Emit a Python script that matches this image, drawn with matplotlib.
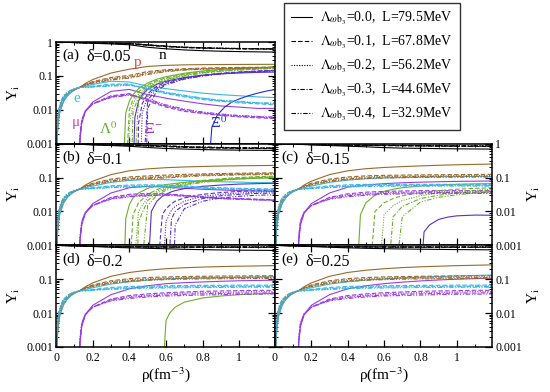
import numpy as np
import matplotlib
matplotlib.use('Agg')
import matplotlib.pyplot as plt
from matplotlib.lines import Line2D
from matplotlib.ticker import LogLocator, MultipleLocator, NullFormatter

nan = np.nan

LAMBDA_WB3 = ['0.0', '0.1', '0.2', '0.3', '0.4']
L_MEV = ['79.5', '67.8', '56.2', '44.6', '32.9']
DELTAS = ['0.05', '0.1', '0.15', '0.2', '0.25']
PANEL_TAGS = ['(a)', '(b)', '(c)', '(d)', '(e)']

# ---- low density part, p = e, same in every panel ----
X_LOW = [0.001, 0.01, 0.02, 0.04, 0.06, 0.08, 0.1, 0.13]
Y_LOW = [[0.0004, 0.0038, 0.0085, 0.0175, 0.0255, 0.0325, 0.0385, 0.046],
         [0.0005, 0.0045, 0.0100, 0.0195, 0.0275, 0.0340, 0.0395, 0.046],
         [0.0006, 0.0053, 0.0115, 0.0215, 0.0292, 0.0352, 0.0403, 0.046],
         [0.0007, 0.0062, 0.0130, 0.0235, 0.0308, 0.0363, 0.0410, 0.046],
         [0.0008, 0.0072, 0.0147, 0.0255, 0.0325, 0.0375, 0.0418, 0.046]]

X_PE = [0.16, 0.2, 0.3, 0.4, 0.5, 0.6, 0.7, 0.8, 0.9, 1.0, 1.1, 1.2]
X_N = [0.0, 0.13, 0.2, 0.3, 0.4, 0.5, 0.6, 0.7, 0.8, 0.9, 1.0, 1.1, 1.2]
X_MU = [0.13, 0.14, 0.16, 0.2, 0.3, 0.4, 0.5, 0.6, 0.7, 0.8, 0.9, 1.0, 1.1, 1.2]
MU_ON = [0.128, 0.127, 0.126, 0.125, 0.124]

# ---- panel (a), delta = 0.05 ----
N_A = [[0.999, 0.954, 0.922, 0.878, 0.830, 0.700, 0.630, 0.585, 0.555, 0.535, 0.522, 0.512, 0.505],
       [0.999, 0.954, 0.932, 0.910, 0.886, 0.800, 0.730, 0.685, 0.660, 0.642, 0.630, 0.622, 0.615],
       [0.999, 0.954, 0.935, 0.915, 0.895, 0.810, 0.740, 0.693, 0.666, 0.648, 0.636, 0.627, 0.620],
       [0.999, 0.954, 0.937, 0.920, 0.903, 0.822, 0.750, 0.701, 0.673, 0.654, 0.641, 0.632, 0.625],
       [0.999, 0.954, 0.939, 0.924, 0.910, 0.835, 0.760, 0.709, 0.679, 0.659, 0.646, 0.637, 0.630]]
P_A = [[0.060, 0.078, 0.122, 0.158, 0.190, 0.205, 0.212, 0.215, 0.217, 0.218, 0.219, 0.220],
       [0.056, 0.068, 0.090, 0.104, 0.135, 0.152, 0.163, 0.170, 0.175, 0.178, 0.180, 0.182],
       [0.055, 0.065, 0.085, 0.097, 0.126, 0.146, 0.158, 0.165, 0.170, 0.174, 0.176, 0.178],
       [0.054, 0.063, 0.080, 0.091, 0.118, 0.140, 0.153, 0.161, 0.166, 0.170, 0.172, 0.174],
       [0.053, 0.061, 0.076, 0.086, 0.110, 0.134, 0.148, 0.157, 0.162, 0.166, 0.169, 0.171]]
E_A = [[0.050, 0.056, 0.070, 0.066, 0.050, 0.042, 0.036, 0.031, 0.028, 0.026, 0.024, 0.023],
       [0.047, 0.050, 0.057, 0.058, 0.040, 0.030, 0.024, 0.020, 0.018, 0.016, 0.015, 0.014],
       [0.046, 0.049, 0.054, 0.056, 0.041, 0.031, 0.025, 0.021, 0.018, 0.017, 0.016, 0.015],
       [0.046, 0.048, 0.052, 0.054, 0.042, 0.032, 0.026, 0.022, 0.019, 0.017, 0.016, 0.015],
       [0.045, 0.047, 0.050, 0.053, 0.043, 0.033, 0.027, 0.022, 0.019, 0.018, 0.016, 0.016]]
MU_A = [[0.0012, 0.004, 0.009, 0.017, 0.035, 0.040, 0.028, 0.022, 0.018, 0.015, 0.013, 0.012, 0.011, 0.011],
        [0.0014, 0.0045, 0.009, 0.015, 0.026, 0.030, 0.018, 0.012, 0.009, 0.0078, 0.0068, 0.0062, 0.0058, 0.0055],
        [0.0015, 0.0047, 0.0092, 0.015, 0.025, 0.029, 0.019, 0.013, 0.0095, 0.008, 0.007, 0.0064, 0.006, 0.0057],
        [0.0016, 0.0049, 0.0094, 0.015, 0.024, 0.028, 0.020, 0.013, 0.010, 0.0083, 0.0072, 0.0066, 0.0062, 0.0059],
        [0.0017, 0.0051, 0.0096, 0.015, 0.023, 0.027, 0.021, 0.014, 0.0105, 0.0086, 0.0075, 0.0068, 0.0064, 0.0061]]
X_LAM_A = [0.38, 0.4, 0.42, 0.45, 0.5, 0.55, 0.6, 0.7, 0.8, 0.9, 1.0, 1.1, 1.2]
LAM_ON_A = [0.365, 0.38, 0.395, 0.41, 0.425]
LAM_A = [[0.008, 0.018, 0.028, 0.042, 0.062, 0.080, 0.095, 0.120, 0.140, 0.155, 0.167, 0.176, 0.183],
         [nan, 0.010, 0.020, 0.034, 0.055, 0.073, 0.088, 0.113, 0.133, 0.148, 0.160, 0.170, 0.177],
         [nan, 0.004, 0.015, 0.029, 0.050, 0.068, 0.083, 0.108, 0.128, 0.144, 0.156, 0.166, 0.173],
         [nan, nan, 0.009, 0.024, 0.045, 0.063, 0.078, 0.104, 0.124, 0.140, 0.152, 0.162, 0.170],
         [nan, nan, nan, 0.018, 0.040, 0.058, 0.074, 0.100, 0.120, 0.136, 0.148, 0.158, 0.166]]
X_XIM_A = [0.43, 0.45, 0.47, 0.5, 0.55, 0.6, 0.7, 0.8, 0.9, 1.0, 1.1, 1.2]
XIM_ON_A = [0.42, 0.445, 0.46, 0.475, 0.49]
XIM_A = [[0.006, 0.018, 0.028, 0.040, 0.057, 0.070, 0.090, 0.105, 0.115, 0.122, 0.127, 0.130],
         [nan, 0.004, 0.015, 0.030, 0.050, 0.065, 0.088, 0.106, 0.120, 0.131, 0.140, 0.147],
         [nan, nan, 0.008, 0.025, 0.046, 0.062, 0.086, 0.104, 0.118, 0.129, 0.138, 0.145],
         [nan, nan, nan, 0.019, 0.042, 0.058, 0.083, 0.101, 0.116, 0.127, 0.136, 0.143],
         [nan, nan, nan, 0.011, 0.037, 0.055, 0.080, 0.099, 0.114, 0.125, 0.134, 0.141]]
X_XI0_A = [0.85, 0.88, 0.92, 0.96, 1.0, 1.05, 1.1, 1.15, 1.2]
XI0_ON_A = [0.83, None, None, None, None]
XI0_A = [[0.003, 0.007, 0.012, 0.017, 0.021, 0.026, 0.031, 0.036, 0.040], None, None, None, None]

# ---- panel (b), delta = 0.1 ----
N_B = [[0.999, 0.954, 0.922, 0.878, 0.836, 0.770, 0.720, 0.690, 0.668, 0.652, 0.642, 0.635, 0.630],
       [0.999, 0.954, 0.932, 0.910, 0.896, 0.856, 0.818, 0.776, 0.752, 0.736, 0.725, 0.718, 0.712],
       [0.999, 0.954, 0.935, 0.915, 0.903, 0.870, 0.833, 0.790, 0.766, 0.750, 0.738, 0.730, 0.725],
       [0.999, 0.954, 0.937, 0.920, 0.909, 0.880, 0.848, 0.806, 0.780, 0.763, 0.750, 0.742, 0.737],
       [0.999, 0.954, 0.939, 0.924, 0.914, 0.892, 0.862, 0.822, 0.796, 0.776, 0.763, 0.755, 0.749]]
P_B = [[0.060, 0.078, 0.122, 0.158, 0.180, 0.195, 0.205, 0.212, 0.218, 0.222, 0.225, 0.228],
       [0.056, 0.068, 0.090, 0.104, 0.112, 0.118, 0.124, 0.128, 0.131, 0.134, 0.136, 0.138],
       [0.055, 0.065, 0.085, 0.097, 0.104, 0.110, 0.117, 0.122, 0.126, 0.129, 0.131, 0.133],
       [0.054, 0.063, 0.080, 0.091, 0.098, 0.103, 0.111, 0.117, 0.121, 0.124, 0.126, 0.128],
       [0.053, 0.061, 0.076, 0.086, 0.093, 0.097, 0.105, 0.112, 0.116, 0.119, 0.121, 0.123]]
E_B = [[0.050, 0.056, 0.072, 0.082, 0.088, 0.086, 0.082, 0.078, 0.075, 0.073, 0.071, 0.070],
       [0.047, 0.050, 0.057, 0.060, 0.061, 0.060, 0.056, 0.052, 0.050, 0.048, 0.047, 0.046],
       [0.046, 0.049, 0.054, 0.057, 0.058, 0.058, 0.054, 0.050, 0.048, 0.046, 0.045, 0.044],
       [0.046, 0.048, 0.052, 0.054, 0.055, 0.056, 0.053, 0.049, 0.046, 0.045, 0.044, 0.043],
       [0.045, 0.047, 0.050, 0.052, 0.053, 0.054, 0.052, 0.048, 0.045, 0.044, 0.043, 0.042]]
MU_B = [[0.0012, 0.004, 0.009, 0.017, 0.035, 0.050, 0.055, 0.052, 0.048, 0.045, 0.043, 0.041, 0.040, 0.039],
        [0.0014, 0.0045, 0.009, 0.015, 0.026, 0.032, 0.034, 0.033, 0.030, 0.027, 0.025, 0.024, 0.023, 0.022],
        [0.0015, 0.0047, 0.0092, 0.015, 0.025, 0.030, 0.032, 0.032, 0.029, 0.026, 0.024, 0.023, 0.022, 0.022],
        [0.0016, 0.0049, 0.0094, 0.015, 0.024, 0.028, 0.030, 0.031, 0.029, 0.026, 0.024, 0.023, 0.022, 0.021],
        [0.0017, 0.0051, 0.0096, 0.015, 0.023, 0.027, 0.029, 0.030, 0.028, 0.026, 0.024, 0.023, 0.022, 0.021]]
X_LAM_B = [0.38, 0.4, 0.42, 0.45, 0.5, 0.55, 0.6, 0.7, 0.8, 0.9, 1.0, 1.1, 1.2]
LAM_ON_B = [0.37, 0.40, 0.42, 0.44, 0.46]
LAM_B = [[0.006, 0.016, 0.025, 0.035, 0.048, 0.056, 0.062, 0.072, 0.080, 0.086, 0.091, 0.095, 0.098],
         [nan, nan, 0.008, 0.018, 0.032, 0.044, 0.054, 0.070, 0.082, 0.092, 0.100, 0.106, 0.110],
         [nan, nan, nan, 0.010, 0.026, 0.039, 0.050, 0.066, 0.078, 0.088, 0.096, 0.102, 0.107],
         [nan, nan, nan, 0.005, 0.021, 0.035, 0.046, 0.062, 0.075, 0.085, 0.093, 0.099, 0.104],
         [nan, nan, nan, nan, 0.015, 0.030, 0.042, 0.059, 0.072, 0.082, 0.090, 0.096, 0.101]]
X_XIM_B = [0.52, 0.55, 0.58, 0.6, 0.63, 0.65, 0.7, 0.8, 0.9, 1.0, 1.1, 1.2]
XIM_ON_B = [0.50, 0.55, 0.58, 0.61, 0.64]
XIM_B = [[0.010, 0.020, 0.028, 0.032, 0.038, 0.041, 0.047, 0.055, 0.060, 0.064, 0.066, 0.068],
         [nan, nan, 0.008, 0.012, 0.017, 0.020, 0.025, 0.032, 0.036, 0.039, 0.041, 0.042],
         [nan, nan, nan, 0.005, 0.011, 0.014, 0.020, 0.028, 0.032, 0.035, 0.037, 0.038],
         [nan, nan, nan, nan, 0.006, 0.010, 0.016, 0.024, 0.029, 0.032, 0.034, 0.035],
         [nan, nan, nan, nan, nan, 0.004, 0.012, 0.020, 0.025, 0.028, 0.030, 0.031]]

# ---- panel (c), delta = 0.15 ----
N_C = [[0.999, 0.954, 0.922, 0.878, 0.842, 0.806, 0.762, 0.738, 0.724, 0.712, 0.703, 0.696, 0.690],
       [0.999, 0.954, 0.932, 0.910, 0.896, 0.888, 0.875, 0.861, 0.852, 0.843, 0.836, 0.830, 0.826],
       [0.999, 0.954, 0.935, 0.915, 0.903, 0.896, 0.884, 0.871, 0.860, 0.851, 0.845, 0.840, 0.837],
       [0.999, 0.954, 0.937, 0.920, 0.909, 0.902, 0.895, 0.880, 0.868, 0.860, 0.853, 0.848, 0.845],
       [0.999, 0.954, 0.939, 0.924, 0.914, 0.907, 0.903, 0.889, 0.876, 0.867, 0.861, 0.857, 0.854]]
P_C = [[0.060, 0.078, 0.122, 0.158, 0.182, 0.198, 0.210, 0.220, 0.230, 0.238, 0.244, 0.250],
       [0.056, 0.068, 0.090, 0.104, 0.112, 0.116, 0.118, 0.120, 0.121, 0.122, 0.123, 0.124],
       [0.055, 0.065, 0.085, 0.097, 0.104, 0.108, 0.110, 0.112, 0.113, 0.114, 0.115, 0.115],
       [0.054, 0.063, 0.080, 0.091, 0.098, 0.103, 0.105, 0.107, 0.108, 0.108, 0.109, 0.109],
       [0.053, 0.061, 0.076, 0.086, 0.093, 0.097, 0.099, 0.101, 0.102, 0.102, 0.103, 0.103]]
E_C = [[0.050, 0.056, 0.072, 0.084, 0.092, 0.097, 0.100, 0.103, 0.105, 0.106, 0.107, 0.108],
       [0.047, 0.050, 0.057, 0.061, 0.063, 0.063, 0.063, 0.063, 0.063, 0.063, 0.063, 0.063],
       [0.046, 0.049, 0.054, 0.058, 0.060, 0.061, 0.061, 0.061, 0.060, 0.060, 0.060, 0.060],
       [0.046, 0.048, 0.052, 0.055, 0.057, 0.058, 0.058, 0.058, 0.058, 0.058, 0.058, 0.058],
       [0.045, 0.047, 0.050, 0.053, 0.054, 0.055, 0.056, 0.056, 0.056, 0.056, 0.056, 0.056]]
MU_C = [[0.0012, 0.004, 0.009, 0.017, 0.035, 0.052, 0.060, 0.066, 0.070, 0.073, 0.075, 0.077, 0.078, 0.079],
        [0.0014, 0.0045, 0.009, 0.015, 0.026, 0.033, 0.037, 0.039, 0.040, 0.041, 0.041, 0.041, 0.041, 0.041],
        [0.0015, 0.0047, 0.0092, 0.015, 0.025, 0.031, 0.034, 0.036, 0.037, 0.038, 0.038, 0.038, 0.038, 0.038],
        [0.0016, 0.0049, 0.0094, 0.015, 0.024, 0.029, 0.032, 0.034, 0.035, 0.035, 0.036, 0.036, 0.036, 0.036],
        [0.0017, 0.0051, 0.0096, 0.015, 0.023, 0.027, 0.030, 0.032, 0.033, 0.033, 0.034, 0.034, 0.034, 0.034]]
X_LAM_C = [0.47, 0.5, 0.55, 0.6, 0.65, 0.7, 0.8, 0.9, 1.0, 1.1, 1.2]
LAM_ON_C = [0.45, 0.52, 0.57, 0.62, 0.66]
LAM_C = [[0.008, 0.018, 0.030, 0.039, 0.045, 0.050, 0.056, 0.060, 0.063, 0.065, 0.066],
         [nan, nan, 0.010, 0.018, 0.024, 0.029, 0.036, 0.041, 0.045, 0.048, 0.050],
         [nan, nan, nan, 0.008, 0.015, 0.021, 0.029, 0.035, 0.039, 0.042, 0.045],
         [nan, nan, nan, nan, 0.007, 0.014, 0.024, 0.030, 0.035, 0.038, 0.041],
         [nan, nan, nan, nan, nan, 0.007, 0.019, 0.026, 0.031, 0.035, 0.038]]
X_XIM_C = [0.82, 0.85, 0.9, 0.95, 1.0, 1.1, 1.2]
XIM_ON_C = [0.80, None, None, None, None]
XIM_C = [[0.0025, 0.004, 0.0058, 0.0068, 0.0074, 0.0078, 0.0077], None, None, None, None]

# ---- panel (d), delta = 0.2 ----
N_D = [[0.999, 0.954, 0.922, 0.878, 0.842, 0.816, 0.792, 0.763, 0.744, 0.730, 0.719, 0.712, 0.706],
       [0.999, 0.954, 0.932, 0.910, 0.896, 0.888, 0.883, 0.880, 0.878, 0.876, 0.875, 0.874, 0.873],
       [0.999, 0.954, 0.935, 0.915, 0.903, 0.896, 0.891, 0.888, 0.886, 0.884, 0.883, 0.882, 0.882],
       [0.999, 0.954, 0.937, 0.920, 0.909, 0.902, 0.897, 0.894, 0.892, 0.891, 0.890, 0.889, 0.889],
       [0.999, 0.954, 0.939, 0.924, 0.914, 0.907, 0.903, 0.900, 0.898, 0.897, 0.896, 0.895, 0.895]]
P_D = [[0.060, 0.078, 0.122, 0.158, 0.184, 0.204, 0.218, 0.228, 0.236, 0.242, 0.247, 0.251],
       [0.056, 0.068, 0.090, 0.104, 0.112, 0.117, 0.120, 0.122, 0.124, 0.125, 0.126, 0.127],
       [0.055, 0.065, 0.085, 0.097, 0.104, 0.109, 0.112, 0.114, 0.116, 0.117, 0.118, 0.118],
       [0.054, 0.063, 0.080, 0.091, 0.098, 0.103, 0.106, 0.108, 0.109, 0.110, 0.111, 0.111],
       [0.053, 0.061, 0.076, 0.086, 0.093, 0.097, 0.100, 0.102, 0.103, 0.104, 0.105, 0.105]]
E_D = [[0.050, 0.056, 0.072, 0.084, 0.094, 0.102, 0.106, 0.109, 0.112, 0.114, 0.116, 0.118],
       [0.047, 0.050, 0.057, 0.061, 0.063, 0.064, 0.065, 0.066, 0.066, 0.067, 0.067, 0.067],
       [0.046, 0.049, 0.054, 0.058, 0.060, 0.061, 0.062, 0.063, 0.063, 0.063, 0.064, 0.064],
       [0.046, 0.048, 0.052, 0.055, 0.057, 0.058, 0.059, 0.060, 0.060, 0.060, 0.061, 0.061],
       [0.045, 0.047, 0.050, 0.053, 0.054, 0.055, 0.056, 0.057, 0.057, 0.058, 0.058, 0.058]]
MU_D = [[0.0012, 0.004, 0.009, 0.017, 0.035, 0.052, 0.064, 0.074, 0.079, 0.083, 0.087, 0.090, 0.092, 0.094],
        [0.0014, 0.0045, 0.009, 0.015, 0.026, 0.033, 0.037, 0.040, 0.042, 0.044, 0.045, 0.046, 0.047, 0.047],
        [0.0015, 0.0047, 0.0092, 0.015, 0.025, 0.031, 0.034, 0.037, 0.039, 0.040, 0.041, 0.042, 0.043, 0.043],
        [0.0016, 0.0049, 0.0094, 0.015, 0.024, 0.029, 0.032, 0.034, 0.036, 0.037, 0.038, 0.039, 0.039, 0.040],
        [0.0017, 0.0051, 0.0096, 0.015, 0.023, 0.027, 0.030, 0.032, 0.033, 0.034, 0.035, 0.036, 0.036, 0.037]]
X_LAM_D = [0.6, 0.62, 0.65, 0.7, 0.8, 0.9, 1.0, 1.1, 1.2]
LAM_ON_D = [0.58, None, None, None, None]
LAM_D = [[0.006, 0.010, 0.015, 0.021, 0.028, 0.032, 0.035, 0.037, 0.038], None, None, None, None]

# ---- panel (e), delta = 0.25 (no hyperons) ----
N_E = [[0.999, 0.954, 0.922, 0.878, 0.842, 0.816, 0.796, 0.780, 0.768, 0.758, 0.749, 0.742, 0.735],
       [0.999, 0.954, 0.932, 0.910, 0.896, 0.888, 0.883, 0.880, 0.878, 0.876, 0.875, 0.874, 0.873],
       [0.999, 0.954, 0.935, 0.915, 0.903, 0.896, 0.891, 0.888, 0.886, 0.884, 0.883, 0.882, 0.882],
       [0.999, 0.954, 0.937, 0.920, 0.909, 0.902, 0.897, 0.894, 0.892, 0.891, 0.890, 0.889, 0.889],
       [0.999, 0.954, 0.939, 0.924, 0.914, 0.907, 0.903, 0.900, 0.898, 0.897, 0.896, 0.895, 0.895]]
P_E = [[0.060, 0.078, 0.122, 0.158, 0.184, 0.204, 0.220, 0.232, 0.242, 0.251, 0.258, 0.265],
       [0.056, 0.068, 0.090, 0.104, 0.112, 0.117, 0.120, 0.122, 0.124, 0.125, 0.126, 0.127],
       [0.055, 0.065, 0.085, 0.097, 0.104, 0.109, 0.112, 0.114, 0.116, 0.117, 0.118, 0.118],
       [0.054, 0.063, 0.080, 0.091, 0.098, 0.103, 0.106, 0.108, 0.109, 0.110, 0.111, 0.111],
       [0.053, 0.061, 0.076, 0.086, 0.093, 0.097, 0.100, 0.102, 0.103, 0.104, 0.105, 0.105]]
E_E = [[0.050, 0.056, 0.072, 0.084, 0.094, 0.102, 0.109, 0.115, 0.120, 0.125, 0.129, 0.133],
       [0.047, 0.050, 0.057, 0.061, 0.063, 0.064, 0.065, 0.066, 0.066, 0.067, 0.067, 0.067],
       [0.046, 0.049, 0.054, 0.058, 0.060, 0.061, 0.062, 0.063, 0.063, 0.063, 0.064, 0.064],
       [0.046, 0.048, 0.052, 0.055, 0.057, 0.058, 0.059, 0.060, 0.060, 0.060, 0.061, 0.061],
       [0.045, 0.047, 0.050, 0.053, 0.054, 0.055, 0.056, 0.057, 0.057, 0.058, 0.058, 0.058]]
MU_E = [[0.0012, 0.004, 0.009, 0.017, 0.035, 0.052, 0.064, 0.074, 0.082, 0.089, 0.095, 0.100, 0.104, 0.108],
        [0.0014, 0.0045, 0.009, 0.015, 0.026, 0.033, 0.037, 0.040, 0.042, 0.044, 0.045, 0.046, 0.047, 0.047],
        [0.0015, 0.0047, 0.0092, 0.015, 0.025, 0.031, 0.034, 0.037, 0.039, 0.040, 0.041, 0.042, 0.043, 0.043],
        [0.0016, 0.0049, 0.0094, 0.015, 0.024, 0.029, 0.032, 0.034, 0.036, 0.037, 0.038, 0.039, 0.039, 0.040],
        [0.0017, 0.0051, 0.0096, 0.015, 0.023, 0.027, 0.030, 0.032, 0.033, 0.034, 0.035, 0.036, 0.036, 0.037]]

# colours
C_N = 'black'
C_P = '#9a6a2c'
C_E = '#39b6e6'
C_MU = '#9a3de0'
C_LAM = '#6cb02a'
C_XIM = '#5530c8'
C_XI0 = '#1f2fd0'

STYLES = ['-', (0, (4, 2)), (0, (1, 1.3)), (0, (4, 1.5, 1, 1.5)), (0, (4, 1.5, 1, 1.5, 1, 1.5))]
LW = 0.8

plt.rcParams['font.family'] = 'serif'
plt.rcParams['font.serif'] = ['Liberation Serif', 'DejaVu Serif']
plt.rcParams['mathtext.fontset'] = 'stix'


def onset_curve(ax, grid, onset, row, color, ls):
    xs = [onset]
    ys = [1e-4]
    for x, y in zip(grid, row):
        if x > onset and not np.isnan(y):
            xs.append(x)
            ys.append(y)
    ax.plot(xs, ys, color=color, ls=ls, lw=LW)


def draw(ax, n, p, e, mu, hyperons):
    for k in range(5):
        ls = STYLES[k]
        ax.plot(X_N, n[k], color=C_N, ls=ls, lw=LW)
        ax.plot(X_LOW + X_PE, Y_LOW[k] + p[k], color=C_P, ls=ls, lw=LW)
        ax.plot(X_LOW + X_PE, Y_LOW[k] + e[k], color=C_E, ls=ls, lw=LW)
        onset_curve(ax, X_MU, MU_ON[k], mu[k], C_MU, ls)
        for grid, ons, rows, col in hyperons:
            if ons[k] is not None and rows[k] is not None:
                onset_curve(ax, grid, ons[k], rows[k], col, ls)


fig = plt.figure(figsize=(5.5, 3.92), dpi=100)
W_L, W_R, H = 0.398, 0.395, 0.2594
ax_a = fig.add_axes([0.102, 0.6334, W_L, H])
ax_b = fig.add_axes([0.102, 0.3742, W_L, H])
ax_c = fig.add_axes([0.500, 0.3742, W_R, H])
ax_d = fig.add_axes([0.102, 0.1148, W_L, H])
ax_e = fig.add_axes([0.500, 0.1148, W_R, H])
axes = [ax_a, ax_b, ax_c, ax_d, ax_e]

draw(ax_a, N_A, P_A, E_A, MU_A, [(X_LAM_A, LAM_ON_A, LAM_A, C_LAM),
                                 (X_XIM_A, XIM_ON_A, XIM_A, C_XIM),
                                 (X_XI0_A, XI0_ON_A, XI0_A, C_XI0)])
draw(ax_b, N_B, P_B, E_B, MU_B, [(X_LAM_B, LAM_ON_B, LAM_B, C_LAM),
                                 (X_XIM_B, XIM_ON_B, XIM_B, C_XIM)])
draw(ax_c, N_C, P_C, E_C, MU_C, [(X_LAM_C, LAM_ON_C, LAM_C, C_LAM),
                                 (X_XIM_C, XIM_ON_C, XIM_C, C_XIM)])
draw(ax_d, N_D, P_D, E_D, MU_D, [(X_LAM_D, LAM_ON_D, LAM_D, C_LAM)])
draw(ax_e, N_E, P_E, E_E, MU_E, [])

for i, ax in enumerate(axes):
    ax.set_yscale('log')
    ax.set_xlim(0, 1.195)
    ax.set_ylim(0.001, 1)
    ax.xaxis.set_major_locator(MultipleLocator(0.2))
    ax.xaxis.set_minor_locator(MultipleLocator(0.1))
    ax.yaxis.set_major_locator(LogLocator(base=10, numticks=10))
    ax.yaxis.set_minor_locator(LogLocator(base=10, subs=np.arange(2, 10), numticks=20))
    ax.yaxis.set_minor_formatter(NullFormatter())
    ax.tick_params(which='both', direction='in', top=True, right=True, labelsize=8.5)
    ax.tick_params(which='major', length=5, width=0.9)
    ax.tick_params(which='minor', length=2.5, width=0.7)
    for s in ax.spines.values():
        s.set_linewidth(1.1)
    right = ax in (ax_c, ax_e)
    ax.tick_params(axis='y', labelleft=not right, labelright=right, pad=2)
    ax.set_yticks([0.001, 0.01, 0.1, 1])
    if ax in (ax_a, ax_c):
        ax.set_yticklabels(['0.001', '0.01', '0.1', '1'])
    else:
        ax.set_yticklabels(['0.001', '0.01', '0.1', ''])
    if ax in (ax_d, ax_e):
        ax.set_xticks([0, 0.2, 0.4, 0.6, 0.8, 1.0])
        ax.set_xticklabels(['0', '0.2', '0.4', '0.6', '0.8', '1'])
        ax.set_xlabel('ρ(fm$^{-3}$)', fontsize=11, labelpad=1)
    else:
        ax.tick_params(axis='x', labelbottom=False)
    if right:
        ax.yaxis.set_label_position('right')
    ax.set_ylabel(r'Y$_{\rm i}$', fontsize=11, labelpad=3)
    ax.text(0.03, 0.83, PANEL_TAGS[i], transform=ax.transAxes, fontsize=11)
    ax.text(0.14, 0.80 if i else 0.81, 'δ=' + DELTAS[i], transform=ax.transAxes, fontsize=11.5)

# species labels in panel (a)
ax_a.text(0.58, 0.40, 'n', color='black', fontsize=11, ha='center', va='center')
ax_a.text(0.445, 0.25, 'p', color='#e04a2a', fontsize=11, ha='center', va='center')
ax_a.text(0.115, 0.021, 'e', color='#39c0e6', fontsize=11, ha='center', va='center')
ax_a.text(0.11, 0.0042, 'μ', color='#d040d0', fontsize=11, ha='center', va='center')
ax_a.text(0.285, 0.0028, r'Λ$^{0}$', color='#5cb020', fontsize=11, ha='center', va='center')
ax_a.text(0.53, 0.0028, r'Ξ$^{-}$', color='#b030d0', fontsize=11, ha='center', va='center')
ax_a.text(0.885, 0.0042, r'Ξ$^{0}$', color='#2030d0', fontsize=11, ha='center', va='center')

handles = [Line2D([], [], color='black', ls=STYLES[k], lw=LW) for k in range(5)]
labels = [r'$\Lambda_{\omega \mathrm{b}_3}$=' + LAMBDA_WB3[k] + ',  L=' + L_MEV[k] + 'MeV' for k in range(5)]
leg = fig.legend(handles, labels, loc='upper left', bbox_to_anchor=(284 / 550, 1 - 3 / 392),
                 fontsize=10, frameon=True, fancybox=False, edgecolor='black',
                 handlelength=1.5, handletextpad=0.6, labelspacing=0.5, borderpad=0.5,
                 borderaxespad=0)
leg.get_frame().set_linewidth(1.0)

fig.savefig('out.png', dpi=100)
